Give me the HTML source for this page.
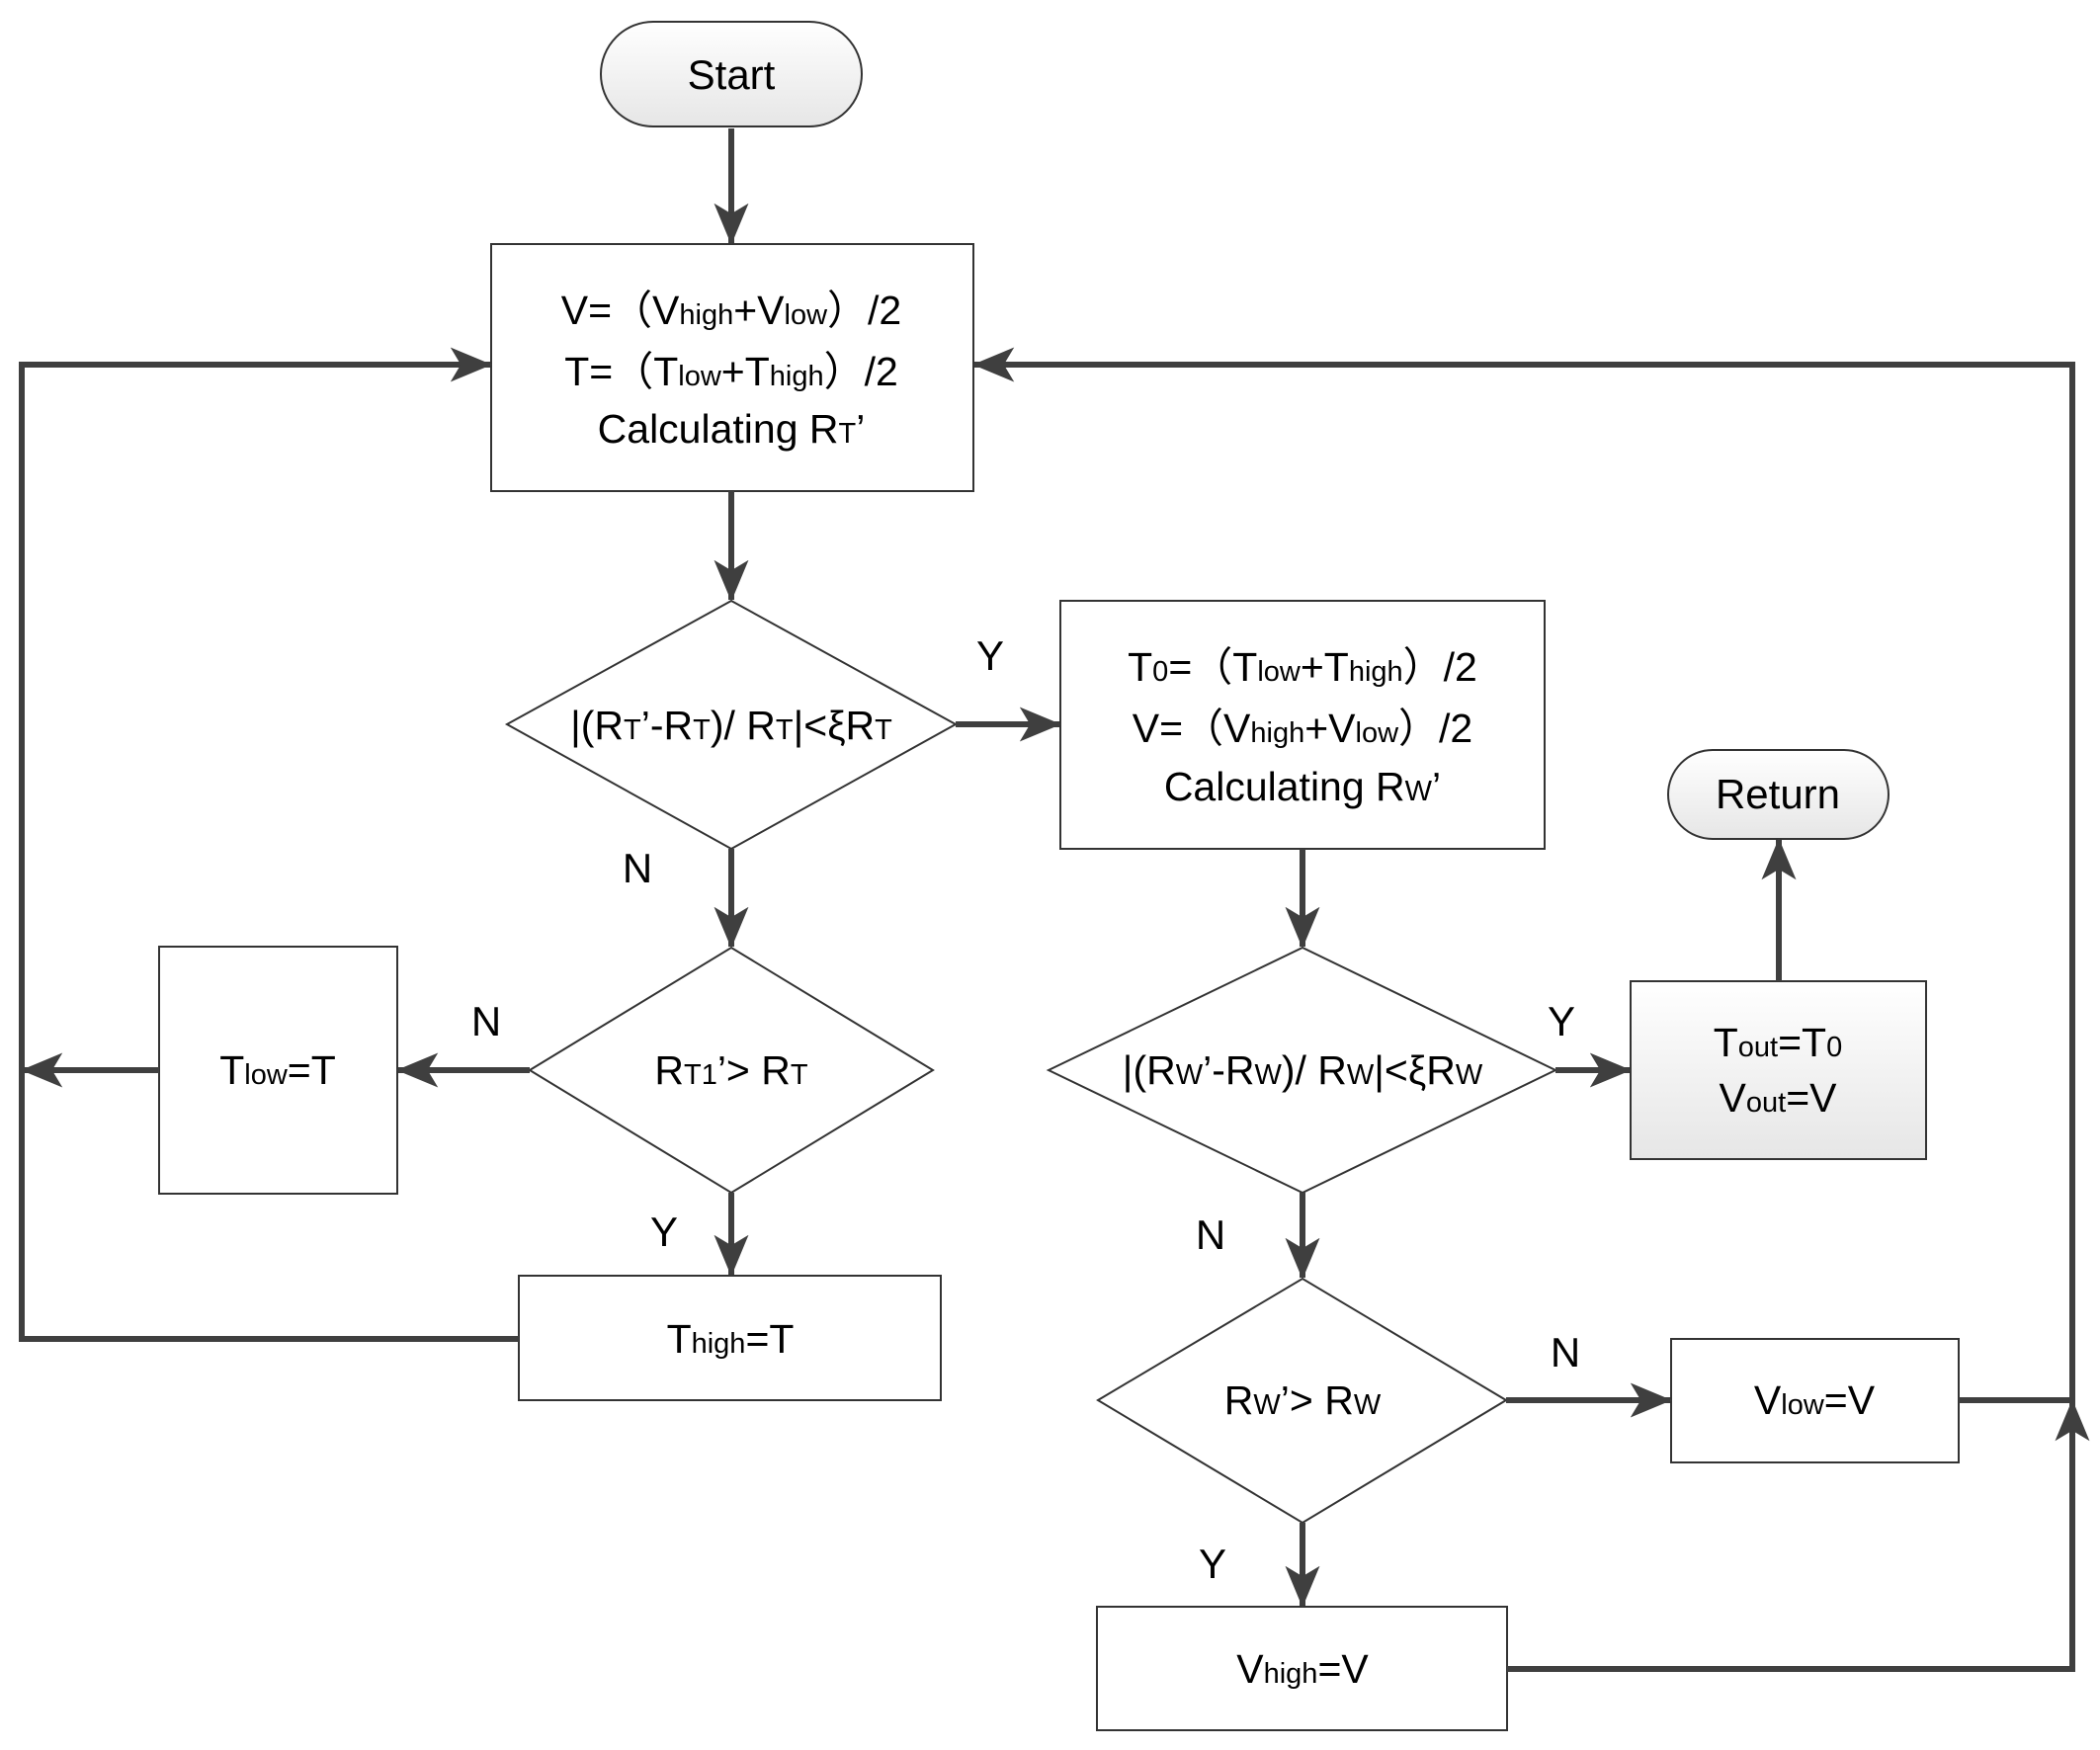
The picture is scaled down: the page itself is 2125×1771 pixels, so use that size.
<!DOCTYPE html>
<html><head><meta charset="utf-8"><style>
html,body{margin:0;padding:0;background:#fff;}
svg{display:block;}
text{font-family:"Liberation Sans","Noto Sans CJK SC",sans-serif;fill:#000;}
.s{font-size:29px;}
</style></head><body>
<svg width="2125" height="1771" viewBox="0 0 2125 1771" xmlns="http://www.w3.org/2000/svg">
<defs>
<marker id="a" viewBox="0 0 12 10" refX="11.5" refY="5" markerWidth="42" markerHeight="36" markerUnits="userSpaceOnUse" orient="auto">
<path d="M0,0 L12,5 L0,10 L3,5 z" fill="#3f3f3f"/>
</marker>
<linearGradient id="g" x1="0" y1="0" x2="0" y2="1"><stop offset="0" stop-color="#ffffff"/><stop offset="1" stop-color="#e6e6e6"/></linearGradient>
</defs>
<g stroke="#333" stroke-width="2" fill="#fff">
<rect x="608" y="22" width="264" height="106" rx="53" fill="url(#g)"/>
<rect x="497" y="247" width="488" height="250"/>
<polygon points="513,733 740,608 967,733 740,859"/>
<rect x="1073" y="608" width="490" height="251"/>
<polygon points="536,1083 740,959 944,1083 740,1207"/>
<rect x="161" y="958" width="241" height="250"/>
<rect x="525" y="1291" width="427" height="126"/>
<polygon points="1061,1083 1318,959 1574,1083 1318,1207"/>
<rect x="1650" y="993" width="299" height="180" fill="url(#g)"/>
<rect x="1688" y="759" width="223" height="90" rx="45" fill="url(#g)"/>
<polygon points="1111,1417 1318,1294 1524,1417 1318,1541"/>
<rect x="1691" y="1355" width="291" height="125"/>
<rect x="1110" y="1626" width="415" height="125"/>
</g>
<g stroke="#3f3f3f" stroke-width="6" fill="none">
<line x1="740" y1="130" x2="740" y2="246" marker-end="url(#a)"/>
<line x1="740" y1="497" x2="740" y2="607" marker-end="url(#a)"/>
<line x1="967" y1="733" x2="1072" y2="733" marker-end="url(#a)"/>
<line x1="740" y1="859" x2="740" y2="958" marker-end="url(#a)"/>
<line x1="536" y1="1083" x2="403" y2="1083" marker-end="url(#a)"/>
<line x1="161" y1="1083" x2="23" y2="1083" marker-end="url(#a)"/>
<line x1="740" y1="1207" x2="740" y2="1290" marker-end="url(#a)"/>
<polyline points="525,1355 22,1355 22,369 496,369" marker-end="url(#a)"/>
<line x1="1318" y1="859" x2="1318" y2="958" marker-end="url(#a)"/>
<line x1="1574" y1="1083" x2="1649" y2="1083" marker-end="url(#a)"/>
<line x1="1800" y1="993" x2="1800" y2="850" marker-end="url(#a)"/>
<line x1="1318" y1="1207" x2="1318" y2="1293" marker-end="url(#a)"/>
<line x1="1524" y1="1417" x2="1690" y2="1417" marker-end="url(#a)"/>
<line x1="1318" y1="1541" x2="1318" y2="1625" marker-end="url(#a)"/>
<polyline points="1982,1417 2097,1417"/>
<polyline points="1525,1689 2097,1689 2097,1418" marker-end="url(#a)"/>
<polyline points="2097,1418 2097,369 986,369" marker-end="url(#a)"/>
</g>
<g font-size="41" text-anchor="middle">
<text x="740" y="328">V=（V<tspan class="s">high</tspan>+V<tspan class="s">low</tspan>）/2</text>
<text x="740" y="390">T=（T<tspan class="s">low</tspan>+T<tspan class="s">high</tspan>）/2</text>
<text x="740" y="448">Calculating R<tspan class="s">T</tspan>’</text>
<text x="740" y="748">|(R<tspan class="s">T</tspan>’-R<tspan class="s">T</tspan>)/ R<tspan class="s">T</tspan>|&lt;ξR<tspan class="s">T</tspan></text>
<text x="740" y="1097">R<tspan class="s">T1</tspan>’&gt; R<tspan class="s">T</tspan></text>
<text x="281" y="1097">T<tspan class="s">low</tspan>=T</text>
<text x="739" y="1369">T<tspan class="s">high</tspan>=T</text>
<text x="1318" y="689">T<tspan class="s">0</tspan>=（T<tspan class="s">low</tspan>+T<tspan class="s">high</tspan>）/2</text>
<text x="1318" y="751">V=（V<tspan class="s">high</tspan>+V<tspan class="s">low</tspan>）/2</text>
<text x="1318" y="810">Calculating R<tspan class="s">W</tspan>’</text>
<text x="1318" y="1097">|(R<tspan class="s">W</tspan>’-R<tspan class="s">W</tspan>)/ R<tspan class="s">W</tspan>|&lt;ξR<tspan class="s">W</tspan></text>
<text x="1799" y="1069">T<tspan class="s">out</tspan>=T<tspan class="s">0</tspan></text>
<text x="1799" y="1125">V<tspan class="s">out</tspan>=V</text>
<text x="1318" y="1431">R<tspan class="s">W</tspan>’&gt; R<tspan class="s">W</tspan></text>
<text x="1836" y="1431">V<tspan class="s">low</tspan>=V</text>
<text x="1318" y="1703">V<tspan class="s">high</tspan>=V</text>
</g>
<g font-size="42" text-anchor="middle">
<text x="740" y="90">Start</text>
<text x="1799" y="818">Return</text>
<text x="1002" y="678">Y</text>
<text x="645" y="893">N</text>
<text x="492" y="1048">N</text>
<text x="672" y="1261">Y</text>
<text x="1580" y="1048">Y</text>
<text x="1225" y="1264">N</text>
<text x="1584" y="1383">N</text>
<text x="1227" y="1597">Y</text>
</g>
</svg>
</body></html>
